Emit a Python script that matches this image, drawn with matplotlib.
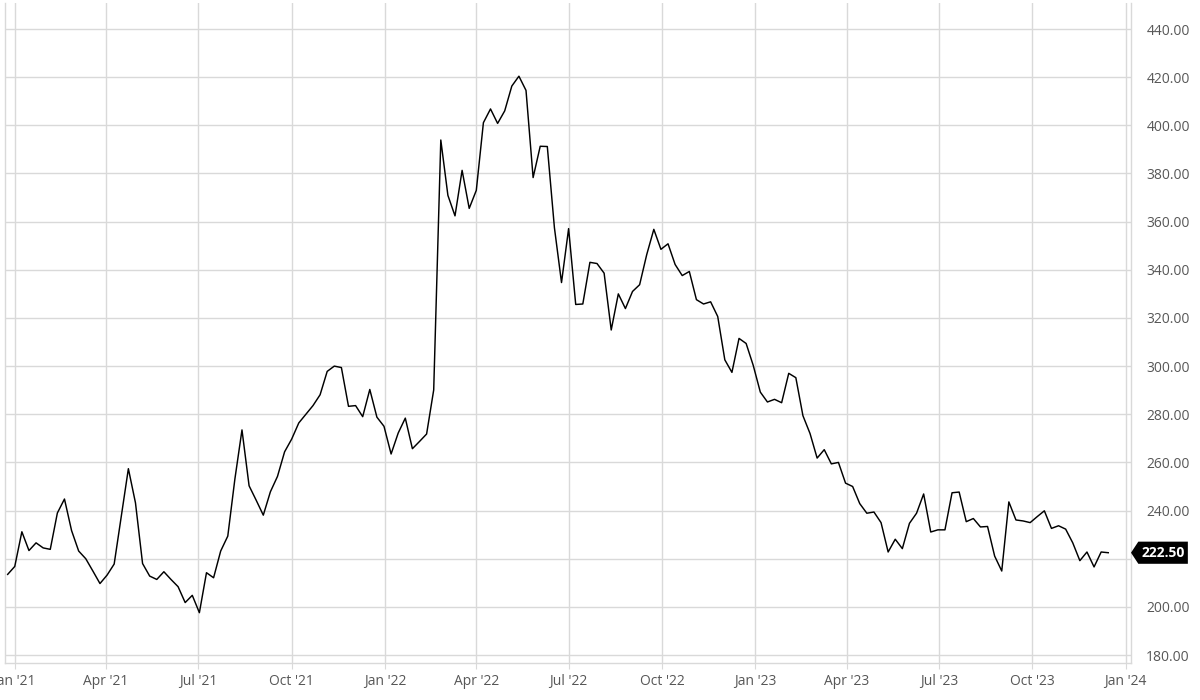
import matplotlib
matplotlib.use("Agg")
from matplotlib import pyplot as plt
from matplotlib.patches import Polygon
import matplotlib.dates as mdates
import matplotlib.transforms as mtransforms
import pandas as pd

plt.rcParams['font.family'] = ['Open Sans', 'DejaVu Sans']

# weekly closes (Dec 2020 - Dec 2023)
start_date = "2020-12-25"
prices = [
    213.5, 216.8, 231.2, 223.4, 226.6, 224.5, 223.9, 239.0, 244.8, 231.7,
    223.2, 220.0, 214.9, 209.7, 213.2, 217.8, 237.7, 257.4, 243.2, 218.0,
    212.8, 211.4, 214.6, 211.4, 208.4, 201.8, 204.8, 197.6,
    214.2, 212.1, 223.2, 229.4, 253.1, 273.5, 250.3, 244.3, 238.1, 247.8,
    254.2, 264.4, 269.7, 276.4, 280.0, 283.6, 288.1, 297.8, 300.0, 299.4,
    283.3, 283.6, 279.0, 290.3, 278.8, 275.0,
    263.5, 272.2, 278.4, 265.7, 268.7, 271.8, 290.1, 393.9, 370.9, 362.4,
    381.3, 365.5, 373.0, 401.1, 406.8, 400.8, 406.0, 416.3, 420.4, 414.5,
    378.3, 391.3, 391.2, 357.5,
    334.7, 357.1, 325.6, 325.8, 343.1, 342.6, 338.6, 315.0, 330.0, 323.9,
    331.0, 333.8, 346.3, 356.8, 348.5, 350.8, 342.2, 337.6, 339.3, 327.6,
    325.8, 326.7, 320.6, 302.6, 297.4, 311.5,
    309.4, 300.3, 289.2, 285.1, 286.2, 284.8, 297.0, 295.2, 279.4, 272.0,
    261.8, 265.3, 259.4, 260.0, 251.4, 250.0, 242.9, 238.9, 239.4, 235.0,
    222.8, 228.1, 224.2, 234.7, 238.9, 246.9, 231.1, 232.0, 232.0,
    247.4, 247.7, 235.4, 236.7, 233.2, 233.4, 221.1, 214.9, 243.6, 236.1,
    235.7, 235.0, 237.5, 239.9, 232.6, 233.7, 232.3, 226.6, 219.2, 222.8,
    216.6, 222.8, 222.5,
]
last_label = "222.50"
y_ticks = [180, 200, 220, 240, 260, 280, 300, 320, 340, 360, 380, 400, 420, 440]
hidden_tick = 220  # covered by the last-price badge

dates = pd.date_range(start_date, periods=len(prices), freq="7D")

fig = plt.figure(figsize=(12, 7), dpi=100)
ax = fig.add_axes([5 / 1200, 37 / 700, 1126 / 1200, 660 / 700])

ax.plot(dates, prices, color="black", lw=1.05)

grid_col = "#d9d9d9"
label_col = "#575757"

ax.set_ylim(176.7, 450.8)
ax.set_xlim(pd.Timestamp("2020-12-22 09:00"), pd.Timestamp("2024-01-06 10:00"))

ax.set_yticks(y_ticks)
ax.yaxis.set_major_formatter(
    plt.FuncFormatter(lambda v, p: "" if abs(v - hidden_tick) < 0.01 else "%.2f" % v))
ax.yaxis.tick_right()
ax.xaxis.set_major_locator(mdates.MonthLocator(bymonth=[1, 4, 7, 10]))
ax.xaxis.set_major_formatter(mdates.DateFormatter("%b '%y"))

ax.grid(True, color=grid_col, lw=1.0)
ax.tick_params(axis="y", length=0, pad=11, labelsize=10, labelcolor=label_col)
ax.tick_params(axis="x", length=4, color=grid_col, pad=4, labelsize=10,
               labelcolor=label_col)

ax.spines["top"].set_visible(False)
for side in ["left", "right", "bottom"]:
    ax.spines[side].set_color(grid_col)
    ax.spines[side].set_linewidth(1.0)

# last price badge on the right axis
trans = mtransforms.blended_transform_factory(ax.transAxes, ax.transData)
last = prices[-1]
h = 4.6
x0, x1, x2 = 1.0, 1.0065, 1.0505
badge = Polygon([(x0, last), (x1, last + h), (x2, last + h), (x2, last - h), (x1, last - h)],
                closed=True, transform=trans, facecolor="black", edgecolor="none",
                clip_on=False, zorder=5)
ax.add_patch(badge)
ax.text(1.029, last, last_label, transform=trans, color="white", fontsize=10,
        fontweight="bold", ha="center", va="center", clip_on=False, zorder=6)

fig.savefig("out.png", dpi=100)
